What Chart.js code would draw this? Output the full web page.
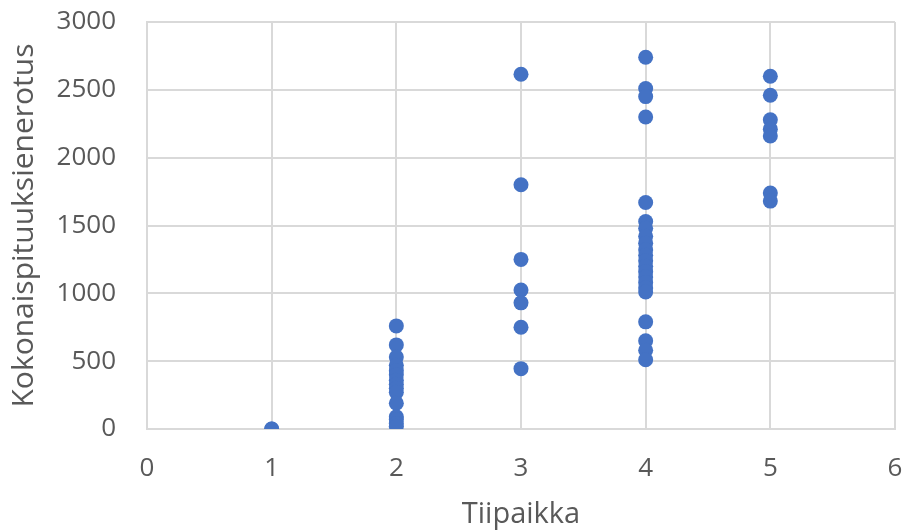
<!DOCTYPE html>
<html>
<head>
<meta charset="utf-8">
<script src="https://cdn.jsdelivr.net/npm/chart.js@4"></script>
<style>
  html, body { margin: 0; padding: 0; background: #fff; }
  #wrap { width: 905px; height: 532px; }
</style>
</head>
<body>
<div id="wrap"><canvas id="chart" width="905" height="532"></canvas></div>
<script>
// values, one array per tee position
const tii1 = [0, 0];
const tii2 = [760, 620, 530, 470, 430, 400, 360, 330, 300, 270, 190, 90, 70, 40, 20];
const tii3 = [2615, 1800, 1250, 1025, 930, 750, 445];
const tii4 = [2740, 2510, 2450, 2300, 1670, 1530, 1480, 1420, 1370, 1320, 1280, 1240,
              1200, 1160, 1120, 1080, 1040, 1010, 790, 650, 580, 510];
const tii5 = [2600, 2460, 2280, 2210, 2160, 1740, 1680];
const xTicks = [0, 1, 2, 3, 4, 5, 6];
const yTicks = [0, 500, 1000, 1500, 2000, 2500, 3000];

var points = [];
[tii1, tii2, tii3, tii4, tii5].forEach(function(arr, i) {
  arr.forEach(function(v) { points.push({x: i + 1, y: v}); });
});

var grey = '#595959';
var font = '"Open Sans", sans-serif';

new Chart(document.getElementById('chart'), {
  type: 'scatter',
  data: {
    datasets: [{
      data: points,
      backgroundColor: '#4472C4',
      borderColor: '#4472C4',
      pointRadius: 7.5,
      pointHoverRadius: 7.5,
      borderWidth: 0
    }]
  },
  options: {
    responsive: false,
    animation: false,
    layout: { padding: { top: 22, right: 10, left: 0, bottom: 0 } },
    plugins: { legend: { display: false }, tooltip: { enabled: false } },
    scales: {
      x: {
        type: 'linear',
        min: 0, max: 6,
        afterBuildTicks: function(s) { s.ticks = xTicks.map(function(v) { return {value: v}; }); },
        afterFit: function(s) { s.height = 103; s.paddingLeft = 0; s.paddingRight = 0; },
        grid: { color: '#d9d9d9', lineWidth: 2, drawTicks: false },
        border: { color: '#d9d9d9', width: 2 },
        ticks: { color: grey, font: { family: font, size: 26 }, padding: 24,
                 callback: function(v) { return String(v); } },
        title: { display: true, text: 'Tiipaikka', color: grey,
                 font: { family: font, size: 29 }, padding: { top: 0, bottom: 0 } }
      },
      y: {
        min: 0, max: 3000,
        afterBuildTicks: function(s) { s.ticks = yTicks.map(function(v) { return {value: v}; }); },
        afterFit: function(s) { s.width = 147; s.paddingTop = 0; s.paddingBottom = 0; },
        grid: { color: '#d9d9d9', lineWidth: 2, drawTicks: false },
        border: { color: '#d9d9d9', width: 2 },
        ticks: { color: grey, font: { family: font, size: 26 }, padding: 31,
                 callback: function(v) { return String(v); } },
        title: { display: true, text: 'Kokonaispituuksienerotus', color: grey,
                 font: { family: font, size: 30 }, padding: { top: 6, bottom: 0 } }
      }
    }
  }
});
</script>
</body>
</html>
